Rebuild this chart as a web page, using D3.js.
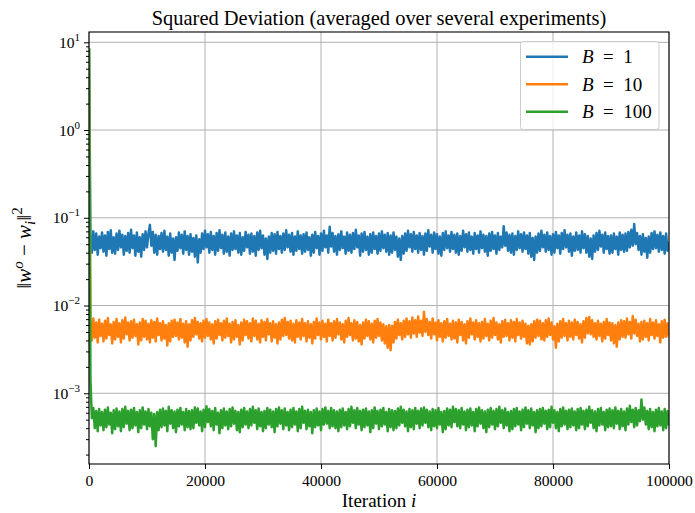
<!DOCTYPE html>
<html>
<head>
<meta charset="utf-8">
<script src="https://cdn.jsdelivr.net/npm/d3@7"></script>
<style>
  body { margin: 0; background: #fff; }
  svg { display: block; font-family: "Liberation Serif", "DejaVu Serif", serif; }
</style>
</head>
<body>
<svg id="chart"></svg>
<script>
let width = 695,
    height = 513;

// one sample every 250 iterations, first sample at iteration 0
const step = 250;

const xTicks = [0, 20000, 40000, 60000, 80000, 100000];
const yTicks = [1e-3, 1e-2, 1e-1, 1e0, 1e1];
const yExponents = ['\u22123', '\u22122', '\u22121', '0', '1'];

const labels = ['1', '10', '100'];
const colors = ['#1f77b4', '#ff7f0e', '#2ca02c'];

const b1 = [
    8.2, 0.064, 0.040, 0.070, 0.043, 0.066, 0.038, 0.061, 0.045, 0.068,
    0.041, 0.063, 0.037, 0.069, 0.044, 0.072, 0.040, 0.060, 0.039, 0.066,
    0.043, 0.071, 0.046, 0.064, 0.038, 0.062, 0.042, 0.067, 0.040, 0.073,
    0.045, 0.063, 0.037, 0.068, 0.041, 0.060, 0.036, 0.065, 0.043, 0.070,
    0.046, 0.066, 0.083, 0.048, 0.069, 0.040, 0.064, 0.038, 0.062, 0.044,
    0.067, 0.041, 0.071, 0.043, 0.061, 0.037, 0.066, 0.040, 0.058, 0.033,
    0.060, 0.042, 0.068, 0.045, 0.064, 0.039, 0.070, 0.043, 0.062, 0.038,
    0.065, 0.041, 0.059, 0.036, 0.063, 0.031, 0.057, 0.040, 0.066, 0.044,
    0.071, 0.046, 0.065, 0.040, 0.069, 0.043, 0.062, 0.038, 0.067, 0.042,
    0.072, 0.045, 0.064, 0.039, 0.068, 0.041, 0.061, 0.037, 0.066, 0.043,
    0.070, 0.044, 0.063, 0.040, 0.067, 0.038, 0.060, 0.042, 0.069, 0.046,
    0.064, 0.039, 0.066, 0.041, 0.062, 0.037, 0.068, 0.043, 0.071, 0.045,
    0.063, 0.038, 0.058, 0.034, 0.061, 0.040, 0.067, 0.042, 0.065, 0.039,
    0.069, 0.044, 0.062, 0.040, 0.066, 0.043, 0.072, 0.046, 0.064, 0.041,
    0.067, 0.038, 0.061, 0.042, 0.070, 0.044, 0.063, 0.039, 0.065, 0.041,
    0.068, 0.043, 0.060, 0.037, 0.064, 0.040, 0.069, 0.045, 0.062, 0.038,
    0.066, 0.042, 0.071, 0.046, 0.063, 0.040, 0.079, 0.047, 0.067, 0.041,
    0.062, 0.038, 0.065, 0.043, 0.070, 0.045, 0.061, 0.039, 0.068, 0.042,
    0.064, 0.040, 0.067, 0.044, 0.073, 0.046, 0.063, 0.037, 0.066, 0.041,
    0.069, 0.043, 0.061, 0.038, 0.065, 0.040, 0.068, 0.044, 0.062, 0.039,
    0.066, 0.042, 0.070, 0.045, 0.064, 0.041, 0.067, 0.038, 0.063, 0.040,
    0.068, 0.043, 0.061, 0.036, 0.058, 0.033, 0.062, 0.039, 0.066, 0.042,
    0.071, 0.046, 0.065, 0.041, 0.069, 0.044, 0.063, 0.040, 0.067, 0.043,
    0.062, 0.038, 0.066, 0.042, 0.072, 0.047, 0.064, 0.040, 0.068, 0.044,
    0.065, 0.039, 0.061, 0.037, 0.067, 0.043, 0.070, 0.045, 0.063, 0.041,
    0.069, 0.044, 0.064, 0.040, 0.066, 0.038, 0.062, 0.042, 0.071, 0.046,
    0.065, 0.041, 0.068, 0.043, 0.061, 0.039, 0.067, 0.044, 0.063, 0.040,
    0.070, 0.045, 0.064, 0.041, 0.062, 0.037, 0.066, 0.042, 0.069, 0.044,
    0.063, 0.039, 0.067, 0.043, 0.061, 0.046, 0.080, 0.048, 0.068, 0.042,
    0.064, 0.040, 0.066, 0.038, 0.062, 0.043, 0.070, 0.045, 0.065, 0.041,
    0.068, 0.044, 0.063, 0.039, 0.067, 0.036, 0.059, 0.033, 0.061, 0.040,
    0.066, 0.042, 0.071, 0.046, 0.064, 0.041, 0.068, 0.043, 0.062, 0.038,
    0.065, 0.040, 0.069, 0.045, 0.063, 0.039, 0.067, 0.044, 0.072, 0.046,
    0.064, 0.041, 0.066, 0.037, 0.061, 0.042, 0.068, 0.043, 0.063, 0.040,
    0.070, 0.045, 0.065, 0.040, 0.062, 0.036, 0.058, 0.034, 0.063, 0.041,
    0.067, 0.043, 0.071, 0.047, 0.064, 0.040, 0.068, 0.044, 0.062, 0.039,
    0.063, 0.040, 0.066, 0.044, 0.061, 0.038, 0.068, 0.043, 0.064, 0.041,
    0.066, 0.042, 0.069, 0.046, 0.073, 0.048, 0.085, 0.050, 0.067, 0.043,
    0.062, 0.038, 0.065, 0.041, 0.059, 0.035, 0.061, 0.040, 0.067, 0.044,
    0.070, 0.045, 0.064, 0.041, 0.068, 0.043, 0.062, 0.039, 0.066, 0.042,
    0.052
];

const b10 = [
    8.2, 0.0066, 0.0040, 0.0071, 0.0043, 0.0064, 0.0038, 0.0069, 0.0045, 0.0062,
    0.0039, 0.0067, 0.0042, 0.0072, 0.0046, 0.0061, 0.0037, 0.0065, 0.0041, 0.0070,
    0.0044, 0.0063, 0.0038, 0.0068, 0.0042, 0.0073, 0.0047, 0.0064, 0.0040, 0.0066,
    0.0043, 0.0069, 0.0045, 0.0061, 0.0036, 0.0064, 0.0040, 0.0070, 0.0044, 0.0067,
    0.0041, 0.0062, 0.0038, 0.0068, 0.0043, 0.0065, 0.0039, 0.0071, 0.0046, 0.0063,
    0.0040, 0.0066, 0.0042, 0.0060, 0.0035, 0.0063, 0.0039, 0.0067, 0.0044, 0.0069,
    0.0045, 0.0064, 0.0041, 0.0070, 0.0043, 0.0062, 0.0038, 0.0066, 0.0034, 0.0061,
    0.0040, 0.0068, 0.0044, 0.0072, 0.0047, 0.0065, 0.0042, 0.0063, 0.0039, 0.0067,
    0.0043, 0.0070, 0.0045, 0.0064, 0.0041, 0.0061, 0.0037, 0.0066, 0.0042, 0.0069,
    0.0046, 0.0063, 0.0040, 0.0067, 0.0043, 0.0071, 0.0045, 0.0062, 0.0038, 0.0065,
    0.0041, 0.0068, 0.0044, 0.0060, 0.0036, 0.0064, 0.0040, 0.0069, 0.0046, 0.0066,
    0.0042, 0.0063, 0.0039, 0.0071, 0.0045, 0.0067, 0.0041, 0.0062, 0.0038, 0.0068,
    0.0044, 0.0065, 0.0040, 0.0070, 0.0047, 0.0063, 0.0039, 0.0066, 0.0043, 0.0061,
    0.0037, 0.0064, 0.0041, 0.0069, 0.0045, 0.0072, 0.0046, 0.0065, 0.0042, 0.0067,
    0.0040, 0.0062, 0.0038, 0.0068, 0.0044, 0.0064, 0.0041, 0.0070, 0.0045, 0.0063,
    0.0039, 0.0066, 0.0043, 0.0061, 0.0037, 0.0065, 0.0042, 0.0071, 0.0046, 0.0064,
    0.0041, 0.0067, 0.0044, 0.0062, 0.0039, 0.0069, 0.0045, 0.0063, 0.0040, 0.0066,
    0.0043, 0.0070, 0.0047, 0.0064, 0.0041, 0.0061, 0.0038, 0.0067, 0.0044, 0.0072,
    0.0046, 0.0063, 0.0040, 0.0068, 0.0042, 0.0065, 0.0039, 0.0060, 0.0036, 0.0064,
    0.0042, 0.0069, 0.0045, 0.0066, 0.0041, 0.0062, 0.0038, 0.0067, 0.0043, 0.0070,
    0.0045, 0.0064, 0.0040, 0.0061, 0.0037, 0.0058, 0.0033, 0.0060, 0.0031, 0.0059,
    0.0038, 0.0065, 0.0042, 0.0069, 0.0046, 0.0063, 0.0041, 0.0067, 0.0044, 0.0071,
    0.0047, 0.0066, 0.0043, 0.0073, 0.0048, 0.0068, 0.0044, 0.0075, 0.0049, 0.0067,
    0.0045, 0.0085, 0.0050, 0.0070, 0.0046, 0.0065, 0.0042, 0.0071, 0.0047, 0.0064,
    0.0040, 0.0068, 0.0044, 0.0063, 0.0039, 0.0066, 0.0043, 0.0070, 0.0045, 0.0062,
    0.0041, 0.0067, 0.0042, 0.0064, 0.0038, 0.0069, 0.0046, 0.0065, 0.0040, 0.0061,
    0.0037, 0.0066, 0.0043, 0.0071, 0.0047, 0.0064, 0.0041, 0.0068, 0.0044, 0.0063,
    0.0039, 0.0065, 0.0042, 0.0070, 0.0045, 0.0062, 0.0040, 0.0067, 0.0043, 0.0072,
    0.0046, 0.0064, 0.0041, 0.0061, 0.0038, 0.0066, 0.0044, 0.0069, 0.0045, 0.0063,
    0.0040, 0.0068, 0.0043, 0.0065, 0.0039, 0.0070, 0.0046, 0.0064, 0.0042, 0.0067,
    0.0044, 0.0062, 0.0037, 0.0059, 0.0036, 0.0061, 0.0039, 0.0066, 0.0043, 0.0069,
    0.0045, 0.0067, 0.0041, 0.0063, 0.0040, 0.0068, 0.0044, 0.0071, 0.0046, 0.0064,
    0.0041, 0.0058, 0.0033, 0.0062, 0.0039, 0.0066, 0.0043, 0.0070, 0.0045, 0.0063,
    0.0040, 0.0067, 0.0044, 0.0064, 0.0041, 0.0069, 0.0046, 0.0065, 0.0042, 0.0061,
    0.0038, 0.0066, 0.0043, 0.0072, 0.0048, 0.0074, 0.0047, 0.0068, 0.0044, 0.0063,
    0.0041, 0.0067, 0.0045, 0.0062, 0.0039, 0.0065, 0.0042, 0.0070, 0.0046, 0.0064,
    0.0040, 0.0063, 0.0037, 0.0060, 0.0034, 0.0064, 0.0041, 0.0068, 0.0044, 0.0066,
    0.0043, 0.0071, 0.0047, 0.0065, 0.0042, 0.0076, 0.0048, 0.0069, 0.0045, 0.0062,
    0.0039, 0.0065, 0.0041, 0.0067, 0.0044, 0.0063, 0.0040, 0.0070, 0.0046, 0.0064,
    0.0042, 0.0068, 0.0045, 0.0061, 0.0038, 0.0066, 0.0043, 0.0069, 0.0044, 0.0063,
    0.0045
];

const b100 = [
    8.2, 0.0014, 0.00052, 0.00068, 0.00040, 0.00063, 0.00037, 0.00066, 0.00043, 0.00061,
    0.00038, 0.00065, 0.00041, 0.00069, 0.00044, 0.00060, 0.00035, 0.00064, 0.00039, 0.00067,
    0.00042, 0.00062, 0.00037, 0.00066, 0.00041, 0.00070, 0.00045, 0.00063, 0.00038, 0.00065,
    0.00040, 0.00068, 0.00043, 0.00061, 0.00036, 0.00064, 0.00040, 0.00069, 0.00044, 0.00062,
    0.00039, 0.00066, 0.00042, 0.00060, 0.00030, 0.00058, 0.00025, 0.00061, 0.00038, 0.00065,
    0.00041, 0.00067, 0.00043, 0.00063, 0.00037, 0.00070, 0.00045, 0.00064, 0.00040, 0.00062,
    0.00036, 0.00065, 0.00042, 0.00068, 0.00044, 0.00061, 0.00038, 0.00066, 0.00041, 0.00063,
    0.00039, 0.00064, 0.00040, 0.00069, 0.00046, 0.00067, 0.00043, 0.00062, 0.00037, 0.00065,
    0.00041, 0.00071, 0.00047, 0.00066, 0.00042, 0.00063, 0.00038, 0.00068, 0.00044, 0.00060,
    0.00035, 0.00064, 0.00040, 0.00067, 0.00043, 0.00062, 0.00039, 0.00066, 0.00042, 0.00069,
    0.00045, 0.00063, 0.00038, 0.00061, 0.00036, 0.00065, 0.00041, 0.00068, 0.00044, 0.00062,
    0.00040, 0.00066, 0.00043, 0.00070, 0.00046, 0.00064, 0.00039, 0.00067, 0.00042, 0.00061,
    0.00037, 0.00063, 0.00040, 0.00068, 0.00044, 0.00065, 0.00041, 0.00062, 0.00036, 0.00066,
    0.00042, 0.00069, 0.00045, 0.00064, 0.00039, 0.00067, 0.00043, 0.00061, 0.00038, 0.00065,
    0.00041, 0.00068, 0.00044, 0.00062, 0.00037, 0.00066, 0.00040, 0.00070, 0.00046, 0.00063,
    0.00039, 0.00065, 0.00042, 0.00061, 0.00035, 0.00064, 0.00041, 0.00067, 0.00043, 0.00062,
    0.00038, 0.00066, 0.00044, 0.00069, 0.00045, 0.00063, 0.00040, 0.00068, 0.00042, 0.00064,
    0.00040, 0.00062, 0.00037, 0.00065, 0.00041, 0.00067, 0.00043, 0.00061, 0.00039, 0.00066,
    0.00042, 0.00070, 0.00046, 0.00064, 0.00040, 0.00068, 0.00044, 0.00063, 0.00038, 0.00065,
    0.00041, 0.00067, 0.00043, 0.00062, 0.00036, 0.00064, 0.00040, 0.00069, 0.00045, 0.00063,
    0.00039, 0.00065, 0.00042, 0.00068, 0.00044, 0.00061, 0.00037, 0.00066, 0.00041, 0.00064,
    0.00038, 0.00063, 0.00040, 0.00067, 0.00043, 0.00070, 0.00046, 0.00065, 0.00042, 0.00062,
    0.00037, 0.00066, 0.00041, 0.00064, 0.00039, 0.00068, 0.00045, 0.00063, 0.00040, 0.00067,
    0.00043, 0.00069, 0.00046, 0.00065, 0.00041, 0.00062, 0.00038, 0.00066, 0.00042, 0.00064,
    0.00040, 0.00068, 0.00044, 0.00061, 0.00036, 0.00063, 0.00039, 0.00067, 0.00043, 0.00065,
    0.00041, 0.00070, 0.00047, 0.00066, 0.00042, 0.00064, 0.00040, 0.00068, 0.00044, 0.00062,
    0.00038, 0.00065, 0.00041, 0.00067, 0.00043, 0.00061, 0.00037, 0.00066, 0.00042, 0.00069,
    0.00045, 0.00064, 0.00040, 0.00062, 0.00036, 0.00065, 0.00041, 0.00068, 0.00044, 0.00063,
    0.00039, 0.00066, 0.00042, 0.00070, 0.00046, 0.00064, 0.00040, 0.00067, 0.00043, 0.00061,
    0.00037, 0.00063, 0.00039, 0.00066, 0.00042, 0.00068, 0.00044, 0.00062, 0.00038, 0.00065,
    0.00041, 0.00069, 0.00045, 0.00064, 0.00040, 0.00067, 0.00043, 0.00061, 0.00036, 0.00064,
    0.00040, 0.00066, 0.00042, 0.00068, 0.00045, 0.00063, 0.00039, 0.00065, 0.00041, 0.00070,
    0.00046, 0.00064, 0.00040, 0.00061, 0.00037, 0.00066, 0.00042, 0.00069, 0.00044, 0.00063,
    0.00039, 0.00065, 0.00041, 0.00067, 0.00043, 0.00062, 0.00038, 0.00066, 0.00040, 0.00068,
    0.00044, 0.00063, 0.00039, 0.00065, 0.00042, 0.00070, 0.00046, 0.00064, 0.00040, 0.00062,
    0.00037, 0.00066, 0.00043, 0.00068, 0.00044, 0.00061, 0.00038, 0.00065, 0.00041, 0.00067,
    0.00042, 0.00064, 0.00040, 0.00069, 0.00045, 0.00063, 0.00039, 0.00066, 0.00042, 0.00062,
    0.00038, 0.00067, 0.00044, 0.00072, 0.00047, 0.00065, 0.00041, 0.00068, 0.00043, 0.00064,
    0.00048, 0.00085, 0.00050, 0.00069, 0.00044, 0.00063, 0.00039, 0.00066, 0.00041, 0.00061,
    0.00037, 0.00065, 0.00042, 0.00068, 0.00043, 0.00062, 0.00038, 0.00066, 0.00040, 0.00063,
    0.00044
];

const seriesValues = [b1, b10, b100];

let margin = {top: 32, right: 26, bottom: 49, left: 89};

let svg = d3.select('svg#chart')
    .attr('width', width)
    .attr('height', height);

let x = d3.scaleLinear()
    .domain([0, 100000])
    .range([margin.left, width - margin.right]);

let y = d3.scaleLog()
    .domain([1.563e-4, 13.1])
    .range([height - margin.bottom, margin.top]);

// grid
svg.append('g')
    .selectAll('line')
    .data(xTicks)
    .join('line')
    .attr('x1', d => x(d)).attr('x2', d => x(d))
    .attr('y1', margin.top).attr('y2', height - margin.bottom)
    .attr('stroke', '#b0b0b0')
    .attr('stroke-width', 1);

svg.append('g')
    .selectAll('line')
    .data(yTicks)
    .join('line')
    .attr('x1', margin.left).attr('x2', width - margin.right)
    .attr('y1', d => y(d)).attr('y2', d => y(d))
    .attr('stroke', '#b0b0b0')
    .attr('stroke-width', 1);

// lines
svg.append('clipPath')
    .attr('id', 'plot-clip')
    .append('rect')
    .attr('x', margin.left)
    .attr('y', margin.top)
    .attr('width', width - margin.left - margin.right)
    .attr('height', height - margin.top - margin.bottom);

let line = d3.line()
    .x((d, i) => x(i * step))
    .y(d => y(d));

svg.append('g')
    .attr('clip-path', 'url(#plot-clip)')
    .selectAll('path')
    .data(seriesValues)
    .join('path')
    .attr('d', d => line(d))
    .attr('fill', 'none')
    .attr('stroke', (d, i) => colors[i])
    .attr('stroke-width', 2.5)
    .attr('stroke-linejoin', 'round')
    .attr('stroke-linecap', 'square');

// axes
svg.append('g')
    .attr('transform', `translate(0,${height - margin.bottom})`)
    .call(d3.axisBottom(x).tickValues(xTicks).tickFormat(d3.format('d')).tickSize(5).tickPadding(6));

let minorTicks = [];
for (let e = -4; e <= 1; e++) {
    for (let m = 2; m <= 9; m++) {
        let v = m * Math.pow(10, e);
        if (v >= y.domain()[0] && v <= y.domain()[1]) minorTicks.push(v);
    }
}

svg.append('g')
    .attr('transform', `translate(${margin.left},0)`)
    .call(d3.axisLeft(y).tickValues(minorTicks).tickFormat('').tickSize(3));

let gy = svg.append('g')
    .attr('transform', `translate(${margin.left},0)`)
    .call(d3.axisLeft(y).tickValues(yTicks).tickSize(5).tickPadding(4));

gy.selectAll('.tick text')
    .text(null)
    .attr('dy', '0.32em')
    .each(function(d, i) {
        let t = d3.select(this);
        t.append('tspan').text('10');
        t.append('tspan').attr('dy', -7).attr('font-size', 11).text(yExponents[i]);
    });

svg.selectAll('.tick text')
    .attr('font-family', '"Liberation Serif", serif')
    .attr('font-size', 15.6)
    .attr('fill', '#000');
svg.selectAll('.tick line').attr('stroke', '#000').attr('stroke-width', 1);
svg.selectAll('.domain').remove();

// frame
svg.append('rect')
    .attr('x', margin.left)
    .attr('y', margin.top)
    .attr('width', width - margin.left - margin.right)
    .attr('height', height - margin.top - margin.bottom)
    .attr('fill', 'none')
    .attr('stroke', '#000')
    .attr('stroke-width', 1.1);

function fit(sel, target) {
    let len = sel.node().getComputedTextLength();
    let fs = parseFloat(sel.attr('font-size'));
    sel.attr('font-size', fs * target / len);
}

let cx = (margin.left + width - margin.right) / 2;

// title
let title = svg.append('text')
    .attr('x', cx)
    .attr('y', 24.5)
    .attr('text-anchor', 'middle')
    .attr('font-size', 19)
    .text('Squared Deviation (averaged over several experiments)');
fit(title, 455);

// x label
let xlabel = svg.append('text')
    .attr('x', cx)
    .attr('y', 507)
    .attr('text-anchor', 'middle')
    .attr('font-size', 19);
xlabel.append('tspan').text('Iteration ');
xlabel.append('tspan').attr('font-style', 'italic').text('i');

// y label
let ylabel = svg.append('text')
    .attr('transform', `translate(31,${(margin.top + height - margin.bottom) / 2}) rotate(-90)`)
    .attr('text-anchor', 'middle')
    .attr('font-size', 21);
ylabel.append('tspan').text('\u2016');
ylabel.append('tspan').attr('font-style', 'italic').text('w');
ylabel.append('tspan').attr('font-style', 'italic').attr('font-size', 15).attr('dy', -8).text('o');
ylabel.append('tspan').attr('dy', 8).text(' \u2212 ');
ylabel.append('tspan').attr('font-style', 'italic').text('w');
ylabel.append('tspan').attr('font-style', 'italic').attr('font-size', 15).attr('dy', 4).text('i');
ylabel.append('tspan').attr('dy', -4).text('\u2016');
ylabel.append('tspan').attr('font-size', 15).attr('dy', -9).text('2');

// legend
let legend = svg.append('g');
legend.append('rect')
    .attr('x', 520.5)
    .attr('y', 41.5)
    .attr('width', 138.5)
    .attr('height', 88)
    .attr('rx', 3)
    .attr('fill', 'rgba(255,255,255,0.8)')
    .attr('stroke', '#cccccc')
    .attr('stroke-width', 1);

let rows = legend.selectAll('g.row')
    .data(labels)
    .join('g')
    .attr('class', 'row')
    .attr('transform', (d, i) => `translate(0,${56.7 + i * 27.5})`);

rows.append('line')
    .attr('x1', 526).attr('x2', 568)
    .attr('stroke', (d, i) => colors[i])
    .attr('stroke-width', 2.6);

let lt = rows.append('text')
    .attr('x', 582)
    .attr('y', 6.5)
    .attr('font-size', 19);
lt.append('tspan').attr('font-style', 'italic').text('B');
lt.append('tspan').text(d => '\u2002=\u2002' + d);
</script>
</body>
</html>
